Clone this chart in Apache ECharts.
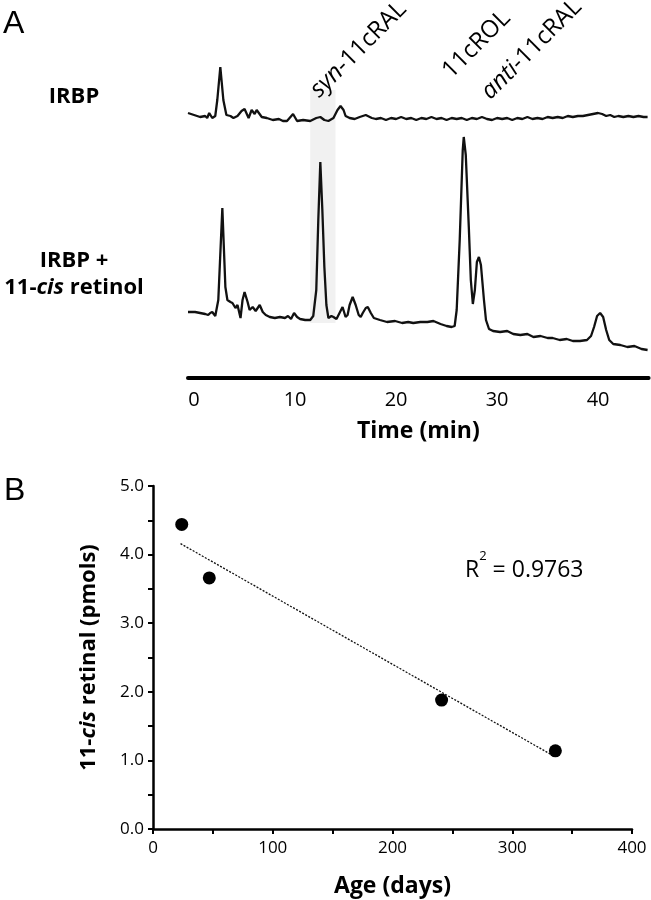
<!DOCTYPE html>
<html>
<head>
<meta charset="utf-8">
<script src="https://cdn.jsdelivr.net/npm/echarts@6/dist/echarts.min.js"></script>
<style>html,body{margin:0;padding:0;background:#fff}#c{width:651px;height:900px}</style>
</head>
<body>
<div id="c"></div>
<script>
// ---------- Panel A : HPLC traces (time in min, detector signal in arbitrary units) ----------
const timeTickLabels = [0, 10, 20, 30, 40];
const irbpTrace = [
  [-0.6,265],[0.0,263],[0.6,261],[1.1,262],[1.3,260],[1.5,265],[1.8,260],[2.1,262],[2.3,278],[2.6,311],
  [2.9,278],[3.2,263],[3.6,262],[3.9,260],[4.3,262],[4.7,267],[5.0,269],[5.4,260],[5.7,268],[6.0,264],
  [6.2,268],[6.7,261],[7.2,260],[7.8,258],[8.4,259],[8.8,257],[9.2,257],[9.8,264],[10.2,257],[10.8,258],
  [11.5,257],[12.1,260],[12.5,261],[12.9,258],[13.3,257],[13.8,260],[14.2,268],[14.5,272],[14.8,268],[15.0,262],
  [15.4,260],[15.9,259],[16.4,261],[17.0,263],[17.6,260],[18.0,259],[18.5,260],[19.0,258],[19.5,260],[20.0,259],
  [20.5,261],[21.0,259],[21.5,260],[22.0,258],[22.5,260],[23.0,259],[23.5,261],[24.0,259],[24.5,260],[25.0,258],
  [25.5,260],[26.0,259],[26.5,260],[27.0,258],[27.5,260],[28.0,259],[28.5,261],[29.0,259],[29.5,258],[30.0,260],
  [30.5,259],[31.0,260],[31.5,258],[32.0,260],[32.5,259],[33.0,261],[33.5,259],[34.0,260],[34.5,259],[35.0,261],
  [35.5,260],[36.0,261],[36.5,260],[37.0,262],[37.5,261],[38.0,262],[38.5,262],[39.0,263],[39.5,264],[40.0,265],
  [40.4,264],[40.8,262],[41.2,263],[41.6,261],[42.0,262],[42.5,261],[43.0,262],[43.5,261],[44.0,262],[44.5,261],[44.9,261]
];
const retinolTrace = [
  [-0.6,66],[0.1,66],[0.6,65],[1.1,64],[1.4,63],[1.6,65],[1.8,66],[2.1,62],[2.4,78],[2.8,170],
  [3.1,91],[3.3,78],[3.6,76],[3.8,75],[4.1,70],[4.3,73],[4.6,60],[4.8,78],[5.0,86],[5.3,76],
  [5.5,68],[5.8,71],[6.1,67],[6.3,70],[6.5,73],[6.8,66],[7.1,63],[7.5,61],[8.0,60],[8.5,61],
  [9.0,60],[9.3,62],[9.6,59],[9.9,65],[10.2,61],[10.5,59],[11.0,58],[11.5,58],[11.8,62],[12.1,88],
  [12.3,158],[12.5,216],[12.7,168],[12.9,111],[13.1,73],[13.3,60],[13.6,62],[13.8,61],[14.1,59],[14.4,65],
  [14.7,71],[15.0,61],[15.2,63],[15.4,73],[15.7,81],[16.0,73],[16.3,63],[16.5,61],[16.7,65],[17.0,70],
  [17.2,71],[17.5,65],[17.8,60],[18.4,58],[19.1,56],[19.9,57],[20.6,55],[21.2,56],[21.7,55],[22.4,56],
  [23.1,56],[23.7,57],[24.4,54],[25.0,52],[25.5,51],[25.8,52],[26.0,68],[26.3,138],[26.6,228],[26.7,241],
  [26.9,223],[27.2,151],[27.4,98],[27.6,74],[27.8,88],[28.0,116],[28.2,121],[28.4,113],[28.7,78],[28.9,58],
  [29.2,49],[29.6,47],[30.3,46],[31.0,47],[31.6,44],[32.3,43],[33.0,44],[33.6,41],[34.3,42],[35.0,40],
  [35.5,40],[36.2,38],[36.9,39],[37.5,37],[38.2,37],[38.9,38],[39.3,42],[39.6,51],[39.9,62],[40.2,65],
  [40.5,61],[40.8,48],[41.1,38],[41.5,34],[42.2,33],[42.9,31],[43.6,32],[44.3,29],[44.9,28]
];
const synBandTime = [11.5, 14.0];
const synBandSignal = [55, 288];

// ---------- Panel B : 11-cis retinal vs age ----------
const ageDays = [24, 47, 241, 336];
const cisRetinal = [4.44, 3.66, 1.88, 1.14];
const trendAge = [23, 335];
const trendRetinal = [4.16, 1.06];
const rSquaredText = '0.9763';

const F = "'Open Sans', sans-serif";
const chart = echarts.init(document.getElementById('c'), null, {renderer: 'canvas'});

const option = {
  animation: false,
  backgroundColor: '#fff',
  grid: [
    {left: 188, top: 30, width: 460.6, height: 348},
    {left: 153, top: 486, width: 479, height: 343}
  ],
  xAxis: [
    {
      gridIndex: 0, type: 'value', min: -0.6, max: 45,
      axisLine: {lineStyle: {color: '#000', width: 4}},
      axisTick: {show: false}, splitLine: {show: false},
      axisLabel: {customValues: timeTickLabels, margin: 12, fontSize: 20, color: '#000', fontFamily: F},
      name: 'Time (min)', nameLocation: 'middle', nameGap: 42,
      nameTextStyle: {fontSize: 23, fontWeight: 'bold', fontFamily: F, color: '#000'}
    },
    {
      gridIndex: 1, type: 'value', min: 0, max: 400, interval: 50,
      axisLine: {onZero: false, lineStyle: {color: '#000', width: 2.5}},
      axisTick: {show: true, length: 5, lineStyle: {color: '#000', width: 2}},
      splitLine: {show: false},
      axisLabel: {margin: 11, fontSize: 17, color: '#000', fontFamily: F,
        formatter: v => (v % 100 === 0 ? String(v) : '')},
      name: 'Age (days)', nameLocation: 'middle', nameGap: 46,
      nameTextStyle: {fontSize: 23, fontWeight: 'bold', fontFamily: F, color: '#000'}
    }
  ],
  yAxis: [
    {gridIndex: 0, type: 'value', min: 0, max: 348, show: false},
    {
      gridIndex: 1, type: 'value', min: 0, max: 5, interval: 0.5,
      axisLine: {show: true, onZero: false, lineStyle: {color: '#000', width: 2.5}},
      axisTick: {show: true, length: 5, lineStyle: {color: '#000', width: 2}},
      splitLine: {show: false},
      axisLabel: {margin: 9, fontSize: 17, color: '#000', fontFamily: F,
        formatter: v => (Math.abs(v - Math.round(v)) < 1e-6 ? v.toFixed(1) : '')},
      name: '11-{i|cis} retinal (pmols)', nameLocation: 'middle', nameRotate: 90, nameGap: 53,
      nameTextStyle: {fontSize: 22, fontWeight: 'bold', fontFamily: F, color: '#000',
        rich: {i: {fontSize: 22, fontWeight: 'bold', fontStyle: 'italic', fontFamily: F, color: '#000'}}}
    }
  ],
  series: [
    {
      name: 'IRBP', type: 'line', xAxisIndex: 0, yAxisIndex: 0, data: irbpTrace,
      showSymbol: false, z: 3, lineStyle: {color: '#111', width: 2.3}
    },
    {
      name: 'IRBP + 11-cis retinol', type: 'line', xAxisIndex: 0, yAxisIndex: 0, data: retinolTrace,
      showSymbol: false, z: 3, lineStyle: {color: '#111', width: 2.3},
      markArea: {
        silent: true, z: 1,
        itemStyle: {color: '#f1f1f1'},
        data: [[{xAxis: synBandTime[0], yAxis: synBandSignal[0]}, {xAxis: synBandTime[1], yAxis: synBandSignal[1]}]]
      }
    },
    {
      name: 'trend', type: 'line', xAxisIndex: 1, yAxisIndex: 1,
      data: trendAge.map((a, i) => [a, trendRetinal[i]]),
      showSymbol: false, lineStyle: {color: '#111', width: 1.3, type: [2, 1.5]}
    },
    {
      name: '11-cis retinal', type: 'scatter', xAxisIndex: 1, yAxisIndex: 1,
      data: ageDays.map((a, i) => [a, cisRetinal[i]]),
      symbol: 'circle', symbolSize: 13, itemStyle: {color: '#000', opacity: 1}, z: 4
    }
  ],
  graphic: [
    {type: 'text', z: 100, x: 3, y: 8, style: {text: 'A', font: "32px 'Liberation Sans', Arial, sans-serif", fill: '#000'}},
    {type: 'text', z: 100, x: 4, y: 475, style: {text: 'B', font: "32px 'Liberation Sans', Arial, sans-serif", fill: '#000'}},
    {type: 'text', z: 100, x: 74, y: 97, style: {text: 'IRBP', align: 'center', verticalAlign: 'middle',
      font: "bold 22px 'Open Sans', sans-serif", fill: '#000'}},
    {type: 'text', z: 100, x: 74, y: 274, style: {
      text: '{b|IRBP +}\n{b|11-}{bi|cis}{b| retinol}', align: 'center', verticalAlign: 'middle',
      rich: {
        b: {font: "bold 22px 'Open Sans', sans-serif", fill: '#000', lineHeight: 27},
        bi: {font: "italic bold 22px 'Open Sans', sans-serif", fill: '#000', lineHeight: 27}
      }}},
    {type: 'text', z: 100, x: 323, y: 102, rotation: Math.PI / 4, style: {
      text: '{i|syn}{r|-11cRAL}', align: 'left', verticalAlign: 'bottom',
      rich: {
        r: {font: "24px 'Open Sans', sans-serif", fill: '#000'},
        i: {font: "italic 24px 'Open Sans', sans-serif", fill: '#000'}
      }}},
    {type: 'text', z: 100, x: 455, y: 83, rotation: Math.PI / 4, style: {
      text: '11cROL', align: 'left', verticalAlign: 'bottom',
      font: "24px 'Open Sans', sans-serif", fill: '#000'}},
    {type: 'text', z: 100, x: 494, y: 104, rotation: Math.PI / 4, style: {
      text: '{i|anti}{r|-11cRAL}', align: 'left', verticalAlign: 'bottom',
      rich: {
        r: {font: "24px 'Open Sans', sans-serif", fill: '#000'},
        i: {font: "italic 24px 'Open Sans', sans-serif", fill: '#000'}
      }}},
    {type: 'text', z: 100, x: 465, y: 550, style: {
      text: '{b|R}{s|2}{b| = ' + rSquaredText + '}',
      rich: {
        b: {font: "23px 'Open Sans', sans-serif", fill: '#000', lineHeight: 40},
        s: {font: "13px 'Open Sans', sans-serif", fill: '#000', lineHeight: 14, verticalAlign: 'top'}
      }}}
  ]
};
chart.setOption(option);
</script>
</body>
</html>
